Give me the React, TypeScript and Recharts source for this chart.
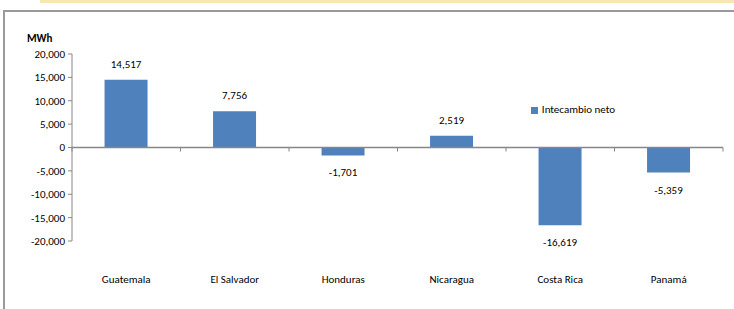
import { BarChart, Bar, XAxis, YAxis, ReferenceLine, Legend, LabelList } from "recharts";

const countries = ["Guatemala", "El Salvador", "Honduras", "Nicaragua", "Costa Rica", "Panamá"];
const netExchange = [14517, 7756, -1701, 2519, -16619, -5359];
const yTicks = [-20000, -15000, -10000, -5000, 0, 5000, 10000, 15000, 20000];

const data = countries.map((c, i) => ({ country: c, value: netExchange[i] }));

const FONT = "Carlito, Lato, 'Liberation Sans', sans-serif";
const AXIS = "#868686";
const BAR = "#4F81BD";

const W = 734;
const H = 309;
const X_H = 68;
const Y_W = 72;
const M = { top: 54, right: 11, bottom: 0, left: 0 };
const plotTop = M.top;
const plotH = H - M.top - X_H;
const zeroY = plotTop + plotH / 2;
const plotW = W - Y_W - M.right;
const band = plotW / countries.length;

const fmt = (v: number) => v.toLocaleString("en-US");

function CategoryTick(props: any) {
  const { x, payload } = props;
  return (
    <g>
      <line x1={x + band / 2} x2={x + band / 2} y1={zeroY} y2={zeroY + 4} stroke={AXIS} />
      {payload.index === 0 && (
        <line x1={x - band / 2} x2={x - band / 2} y1={zeroY} y2={zeroY + 4} stroke={AXIS} />
      )}
      <text x={x} y={283} textAnchor="middle" fontSize={11} fill="#000" fontFamily={FONT}>
        {payload.value}
      </text>
    </g>
  );
}

function ValueLabel(props: any) {
  const { x, y, width, height, value } = props;
  const top = Math.min(y, y + height);
  const bottom = Math.max(y, y + height);
  const cx = x + width / 2;
  const ty = value >= 0 ? top - 12 : bottom + 21;
  return (
    <text x={cx} y={ty} textAnchor="middle" fontSize={11} fill="#000" fontFamily={FONT}>
      {fmt(value)}
    </text>
  );
}

export default function App() {
  return (
    <div style={{ position: "absolute", left: 0, top: 0, width: W, height: H, background: "#fff", fontFamily: FONT }}>
      <div style={{ position: "absolute", left: 40, top: 0, width: W - 40, height: 3, background: "#F7E6B0" }} />
      <div style={{ position: "absolute", left: 3, top: 10, width: W - 3, height: 2, background: "#9A9A9A" }} />
      <div style={{ position: "absolute", left: 3, top: 10, width: 2, height: H - 10, background: "#9A9A9A" }} />
      <div style={{ position: "absolute", left: 27, top: 32, fontSize: 11, fontWeight: "bold", color: "#000" }}>MWh</div>
      <BarChart width={W} height={H} data={data} margin={M} barCategoryGap="30%">
        <XAxis
          dataKey="country"
          axisLine={false}
          tickLine={false}
          interval={0}
          height={X_H}
          tick={<CategoryTick />}
        />
        <YAxis
          width={Y_W}
          domain={[-20000, 20000]}
          ticks={yTicks}
          interval={0}
          tickFormatter={fmt}
          stroke={AXIS}
          tickSize={4}
          tickMargin={3}
          tick={{ fontSize: 11, fill: "#000", fontFamily: FONT }}
          allowDataOverflow
        />
        <Legend
          layout="horizontal"
          verticalAlign="middle"
          align="center"
          iconType="square"
          iconSize={7}
          wrapperStyle={{ position: "absolute", left: 503, top: 103, width: 150, height: 16, fontSize: 11, fontFamily: FONT }}
          formatter={(v: string) => <span style={{ color: "#000" }}>{v}</span>}
        />
        <Bar dataKey="value" name="Intecambio neto" fill={BAR} isAnimationActive={false}>
          <LabelList dataKey="value" content={<ValueLabel />} />
        </Bar>
        <ReferenceLine y={0} stroke={AXIS} strokeWidth={1.5} />
      </BarChart>
    </div>
  );
}
